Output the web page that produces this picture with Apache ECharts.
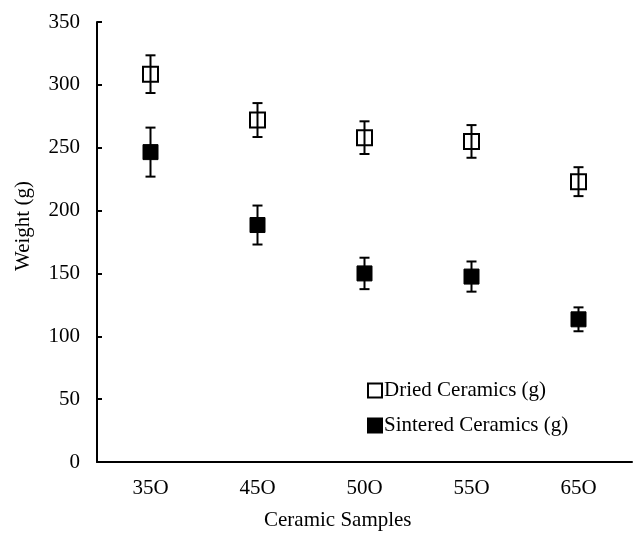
<!DOCTYPE html>
<html>
<head>
<meta charset="utf-8">
<script src="https://cdn.jsdelivr.net/npm/echarts@6/dist/echarts.min.js"></script>
<style>
  html, body { margin: 0; padding: 0; background: #fff; }
  #chart { width: 633px; height: 534px; }
</style>
</head>
<body>
<div id="chart"></div>
<script>
// Sample labels (the last character is a letter O, as printed)
const samples = ['35O', '45O', '50O', '55O', '65O'];

// Mean weights (g) and standard deviations
const dried = [308.5, 272, 258, 255, 223];
const driedErr = [15, 13.5, 13, 13, 11.5];
const sintered = [246.5, 188.5, 150, 147.5, 113.5];
const sinteredErr = [19.5, 15.5, 12.5, 12, 9.5];

const yTicks = { min: 0, max: 350, interval: 50 };

const FONT = "'Liberation Serif', 'Times New Roman', serif";
const FS = 21;

function errRows(means, errs) {
  return means.map((m, i) => [i, m + errs[i], m - errs[i]]);
}

function renderErr(params, api) {
  const x = api.value(0);
  const top = api.coord([x, api.value(1)]);
  const bot = api.coord([x, api.value(2)]);
  const hw = 5;
  const style = { stroke: '#000', lineWidth: 2, fill: null };
  return {
    type: 'group',
    children: [
      { type: 'line', shape: { x1: top[0], y1: top[1], x2: bot[0], y2: bot[1] }, style },
      { type: 'line', shape: { x1: top[0] - hw, y1: top[1], x2: top[0] + hw, y2: top[1] }, style },
      { type: 'line', shape: { x1: bot[0] - hw, y1: bot[1], x2: bot[0] + hw, y2: bot[1] }, style }
    ]
  };
}

const chart = echarts.init(document.getElementById('chart'), null, { renderer: 'canvas' });

chart.setOption({
  backgroundColor: '#fff',
  animation: false,
  grid: { left: 97, right: 1, top: 22, bottom: 72, containLabel: false },
  legend: {
    orient: 'vertical',
    left: 367,
    top: 380,
    padding: 0,
    itemWidth: 14,
    itemHeight: 14,
    itemGap: 14,
    textStyle: { fontFamily: FONT, fontSize: FS, color: '#000', padding: [0, 0, 0, -3] },
    data: [
      { name: 'Dried Ceramics (g)', icon: 'rect' },
      { name: 'Sintered Ceramics (g)', icon: 'rect' }
    ]
  },
  xAxis: {
    type: 'category',
    data: samples,
    boundaryGap: true,
    axisLine: { lineStyle: { color: '#000', width: 2 } },
    axisTick: { alignWithLabel: true, inside: false, length: 5, lineStyle: { color: '#000', width: 2 } },
    axisLabel: { fontFamily: FONT, fontSize: FS, color: '#000', margin: 16 },
    splitLine: { show: false }
  },
  yAxis: {
    type: 'value',
    min: yTicks.min,
    max: yTicks.max,
    interval: yTicks.interval,
    axisLine: { show: true, lineStyle: { color: '#000', width: 2 } },
    axisTick: { show: true, inside: true, length: 5, lineStyle: { color: '#000', width: 2 } },
    axisLabel: { fontFamily: FONT, fontSize: FS, color: '#000', margin: 17 },
    splitLine: { show: false }
  },
  graphic: [
    {
      type: 'text',
      left: 264,
      top: 510,
      style: { text: 'Ceramic Samples', font: FS + 'px ' + FONT, fill: '#000' }
    },
    {
      type: 'text',
      x: 23,
      y: 226,
      rotation: Math.PI / 2,
      style: {
        text: 'Weight (g)',
        font: FS + 'px ' + FONT,
        fill: '#000',
        align: 'center',
        verticalAlign: 'middle'
      }
    }
  ],
  series: [
    {
      name: 'Dried Ceramics (g)',
      type: 'scatter',
      symbol: 'rect',
      symbolSize: 15,
      data: dried,
      z: 3,
      itemStyle: { color: '#fff', borderColor: '#000', borderWidth: 2, opacity: 1 }
    },
    {
      name: 'Sintered Ceramics (g)',
      type: 'scatter',
      symbol: 'rect',
      symbolSize: 15,
      data: sintered,
      z: 3,
      itemStyle: { color: '#000', borderColor: '#000', borderWidth: 1, opacity: 1 }
    },
    {
      type: 'custom',
      name: 'dried-err',
      renderItem: renderErr,
      data: errRows(dried, driedErr),
      encode: { x: 0, y: [1, 2] },
      z: 4,
      silent: true
    },
    {
      type: 'custom',
      name: 'sintered-err',
      renderItem: renderErr,
      data: errRows(sintered, sinteredErr),
      encode: { x: 0, y: [1, 2] },
      z: 2,
      silent: true
    }
  ]
});
</script>
</body>
</html>
